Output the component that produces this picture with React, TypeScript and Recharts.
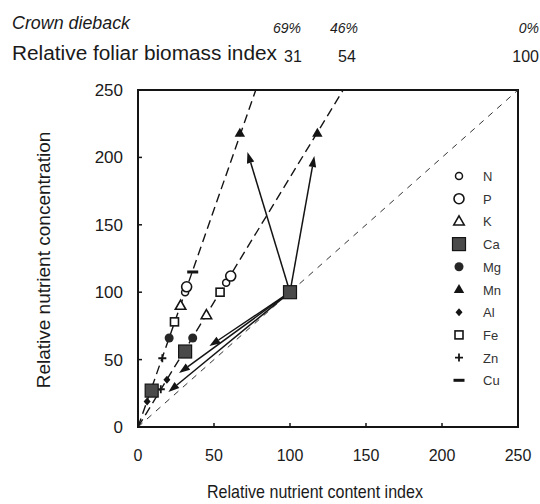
import React from 'react';
import {
  ScatterChart,
  Scatter,
  XAxis,
  YAxis,
  ReferenceLine,
  ReferenceArea,
  Legend,
  Label,
} from 'recharts';

// foliar biomass index per treatment and its crown dieback
const biomassIndex = [31, 54, 100];
const diebackPct = ['69%', '46%', '0%'];
const axisTicks = [0, 50, 100, 150, 200, 250];

// x = relative nutrient content index, y = relative nutrient concentration
const nPoints = [{ x: 31, y: 100 }, { x: 58, y: 107 }, { x: 100, y: 100 }];
const pPoints = [{ x: 32, y: 104 }, { x: 61, y: 112 }, { x: 100, y: 100 }];
const kPoints = [{ x: 28, y: 90 }, { x: 45, y: 83 }, { x: 100, y: 100 }];
const caPoints = [{ x: 9, y: 27 }, { x: 31, y: 56 }, { x: 100, y: 100 }];
const mgPoints = [{ x: 20.5, y: 66 }, { x: 36, y: 66 }, { x: 100, y: 100 }];
const mnPoints = [{ x: 67, y: 218 }, { x: 118, y: 218 }, { x: 100, y: 100 }];
const alPoints = [{ x: 6, y: 19 }, { x: 19, y: 35 }, { x: 100, y: 100 }];
const fePoints = [{ x: 24, y: 78 }, { x: 54, y: 100 }, { x: 100, y: 100 }];
const znPoints = [{ x: 16, y: 51 }, { x: 15, y: 28 }, { x: 100, y: 100 }];
const cuPoints = [{ x: 36, y: 115 }, { x: 100, y: 100 }];

// shifts away from the unaffected trees
const shiftFrom = { x: 100, y: 100 };
const shiftTo = [
  { x: 72, y: 204 },
  { x: 116, y: 201 },
  { x: 47, y: 60 },
  { x: 27, y: 40 },
  { x: 20, y: 26 },
];

const ink = '#141414';
const sans = "'Liberation Sans', Arial, sans-serif";

type Pt = { cx?: number; cy?: number };

const tri = (cx: number, cy: number, s: number) =>
  `${cx},${cy - s} ${cx + s * 0.95},${cy + s * 0.65} ${cx - s * 0.95},${cy + s * 0.65}`;

const markers: Record<string, (p: Pt) => React.ReactElement> = {
  N: ({ cx = 0, cy = 0 }) => (
    <circle cx={cx} cy={cy} r={3.5} fill="#fff" stroke={ink} strokeWidth={1.5} />
  ),
  P: ({ cx = 0, cy = 0 }) => (
    <circle cx={cx} cy={cy} r={5} fill="#fff" stroke={ink} strokeWidth={1.6} />
  ),
  K: ({ cx = 0, cy = 0 }) => (
    <polygon points={tri(cx, cy, 5.5)} fill="#fff" stroke={ink} strokeWidth={1.6} />
  ),
  Ca: ({ cx = 0, cy = 0 }) => (
    <rect x={cx - 6.5} y={cy - 6.5} width={13} height={13} fill="#4a4a4a" stroke={ink} strokeWidth={1.2} />
  ),
  Mg: ({ cx = 0, cy = 0 }) => <circle cx={cx} cy={cy} r={4.5} fill="#262626" />,
  Mn: ({ cx = 0, cy = 0 }) => <polygon points={tri(cx, cy, 5.5)} fill={ink} />,
  Al: ({ cx = 0, cy = 0 }) => (
    <polygon points={`${cx},${cy - 4} ${cx + 3.5},${cy} ${cx},${cy + 4} ${cx - 3.5},${cy}`} fill={ink} />
  ),
  Fe: ({ cx = 0, cy = 0 }) => (
    <rect x={cx - 4} y={cy - 4} width={8} height={8} fill="#fff" stroke={ink} strokeWidth={1.6} />
  ),
  Zn: ({ cx = 0, cy = 0 }) => (
    <path d={`M${cx - 4},${cy}H${cx + 4}M${cx},${cy - 4}V${cy + 4}`} stroke={ink} strokeWidth={1.8} />
  ),
  Cu: ({ cx = 0, cy = 0 }) => <rect x={cx - 5.5} y={cy - 1.5} width={11} height={3} fill={ink} />,
};

const series = [
  { name: 'N', data: nPoints },
  { name: 'P', data: pPoints },
  { name: 'K', data: kPoints },
  { name: 'Ca', data: caPoints },
  { name: 'Mg', data: mgPoints },
  { name: 'Mn', data: mnPoints },
  { name: 'Al', data: alPoints },
  { name: 'Fe', data: fePoints },
  { name: 'Zn', data: znPoints },
  { name: 'Cu', data: cuPoints },
];

// solid shift line with a filled head at its end
const ArrowLine = (props: any) => {
  const { x1, y1, x2, y2 } = props;
  const dx = x2 - x1;
  const dy = y2 - y1;
  const len = Math.hypot(dx, dy) || 1;
  const ux = dx / len;
  const uy = dy / len;
  const bx = x2 - ux * 11;
  const by = y2 - uy * 11;
  const head = `${x2},${y2} ${bx - uy * 3.8},${by + ux * 3.8} ${bx + uy * 3.8},${by - ux * 3.8}`;
  return (
    <g>
      <line x1={x1} y1={y1} x2={bx} y2={by} stroke={ink} strokeWidth={1.5} />
      <polygon points={head} fill={ink} />
    </g>
  );
};

const renderLegend = () => (
  <svg width={80} height={232}>
    {series.map((s, i) => {
      const cy = 10 + i * 22.7;
      return (
        <g key={s.name}>
          {markers[s.name]({ cx: 9, cy })}
          <text x={33} y={cy + 5} fontSize={13} fontFamily={sans} fill="#333">
            {s.name}
          </text>
        </g>
      );
    })}
  </svg>
);

const isoEnd = (b: number) => (b <= 100 ? { x: 2.5 * b, y: 250 } : { x: 250, y: 25000 / b });

export default function App() {
  const pctX = [287, 344, 539];
  const idxX = [293, 347, 539];
  return (
    <div style={{ position: 'absolute', left: 0, top: 0, width: 540, height: 504, background: '#fff' }}>
      <svg width={540} height={70} style={{ position: 'absolute', left: 0, top: 0 }}>
        <text x={12} y={29} fontSize={19} fontStyle="italic" fontFamily={sans} fill="#1a1a1a"
          textLength={118} lengthAdjust="spacingAndGlyphs">
          Crown dieback
        </text>
        <text x={12} y={60} fontSize={20} fontFamily={sans} fill="#1a1a1a"
          textLength={265} lengthAdjust="spacingAndGlyphs">
          Relative foliar biomass index
        </text>
        {diebackPct.map((d, i) => (
          <text key={d} x={pctX[i]} y={33} fontSize={14} fontStyle="italic" fontFamily={sans}
            textAnchor={i === 2 ? 'end' : 'middle'} fill="#1a1a1a">
            {d}
          </text>
        ))}
        {biomassIndex.map((b, i) => (
          <text key={b} x={idxX[i]} y={62} fontSize={16} fontFamily={sans}
            textAnchor={i === 2 ? 'end' : 'middle'} fill="#1a1a1a">
            {b}
          </text>
        ))}
      </svg>
      <div style={{ position: 'absolute', left: 0, top: 0 }}>
        <ScatterChart width={540} height={504} margin={{ top: 90, right: 22, bottom: 37, left: 20 }}>
          <XAxis
            type="number"
            dataKey="x"
            domain={[0, 250]}
            ticks={axisTicks}
            allowDataOverflow
            height={40}
            tickSize={-4}
            tickMargin={27}
            axisLine={{ stroke: ink, strokeWidth: 2 }}
            tickLine={{ stroke: ink, strokeWidth: 1.5 }}
            tick={{ fill: '#1a1a1a', fontSize: 16, fontFamily: sans }}
          >
            <Label
              content={() => (
                <text x={315} y={498} textAnchor="middle" fontSize={19} fontFamily={sans} fill="#1a1a1a"
                  textLength={216} lengthAdjust="spacingAndGlyphs">
                  Relative nutrient content index
                </text>
              )}
            />
          </XAxis>
          <YAxis
            type="number"
            dataKey="y"
            domain={[0, 250]}
            ticks={axisTicks}
            allowDataOverflow
            width={118}
            tickSize={-4}
            tickMargin={19}
            axisLine={{ stroke: ink, strokeWidth: 2 }}
            tickLine={{ stroke: ink, strokeWidth: 1.5 }}
            tick={{ fill: '#1a1a1a', fontSize: 17, fontFamily: sans }}
          >
            <Label
              content={() => (
                <text x={50} y={260} transform="rotate(-90 50 260)" textAnchor="middle" fontSize={19}
                  fontFamily={sans} fill="#1a1a1a">
                  Relative nutrient concentration
                </text>
              )}
            />
          </YAxis>
          <ReferenceArea x1={0} x2={250} y1={0} y2={250} fill="none" fillOpacity={0} stroke={ink}
            strokeWidth={2} ifOverflow="visible" />
          {biomassIndex.map((b) => (
            <ReferenceLine
              key={b}
              segment={[{ x: 0, y: 0 }, isoEnd(b)]}
              stroke={b === 100 ? '#333' : ink}
              strokeWidth={b === 100 ? 1 : 1.4}
              strokeDasharray={b === 100 ? '6 6' : '9 5'}
              ifOverflow="visible"
            />
          ))}
          {shiftTo.map((t, i) => (
            <ReferenceLine key={i} segment={[shiftFrom, t]} ifOverflow="visible" shape={ArrowLine} />
          ))}
          {series
            .filter((s) => s.name !== 'Ca')
            .map((s) => (
              <Scatter key={s.name} name={s.name} data={s.data} shape={markers[s.name]} isAnimationActive={false} />
            ))}
          <Scatter name="Ca" data={caPoints} shape={markers.Ca} isAnimationActive={false} />
          <Legend
            layout="vertical"
            align="center"
            verticalAlign="middle"
            content={renderLegend}
            wrapperStyle={{ position: 'absolute', left: 450, top: 166, width: 80, height: 232 }}
          />
        </ScatterChart>
      </div>
    </div>
  );
}
